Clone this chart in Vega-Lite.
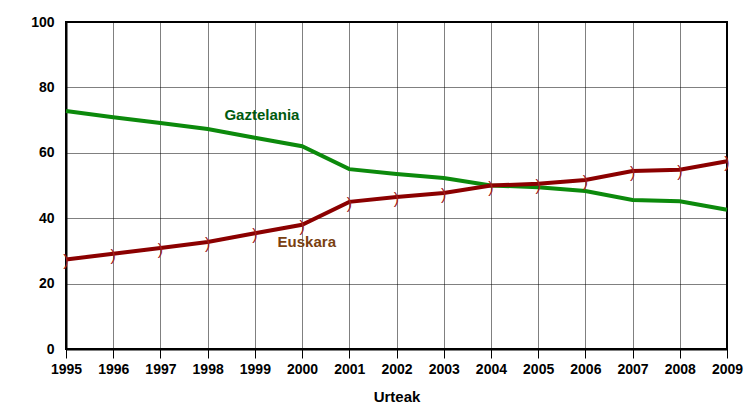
{
  "$schema": "https://vega.github.io/schema/vega-lite/v6.json",
  "autosize": {"type": "none"},
  "width": 661,
  "height": 327,
  "padding": {"left": 66, "top": 22, "right": 26, "bottom": 55},
  "background": "white",
  "config": {
    "view": {"stroke": "black", "strokeWidth": 2},
    "font": "Liberation Sans",
    "axis": {
      "labelFont": "Liberation Sans",
      "labelFontWeight": "bold",
      "labelFontSize": 14,
      "labelColor": "black",
      "grid": true,
      "gridColor": "black",
      "gridDash": [1, 1],
      "gridWidth": 1,
      "gridOpacity": 1,
      "domainColor": "black",
      "domainWidth": 2,
      "tickColor": "black",
      "titleFont": "Liberation Sans",
      "titleFontWeight": "bold",
      "titleFontSize": 15,
      "titleColor": "black"
    }
  },
  "datasets": {
    "series": [
      {"year": 1995, "value": 72.8, "lang": "Gaztelania"},
      {"year": 1996, "value": 70.9, "lang": "Gaztelania"},
      {"year": 1997, "value": 69.1, "lang": "Gaztelania"},
      {"year": 1998, "value": 67.3, "lang": "Gaztelania"},
      {"year": 1999, "value": 64.6, "lang": "Gaztelania"},
      {"year": 2000, "value": 62.0, "lang": "Gaztelania"},
      {"year": 2001, "value": 55.0, "lang": "Gaztelania"},
      {"year": 2002, "value": 53.5, "lang": "Gaztelania"},
      {"year": 2003, "value": 52.3, "lang": "Gaztelania"},
      {"year": 2004, "value": 50.0, "lang": "Gaztelania"},
      {"year": 2005, "value": 49.5, "lang": "Gaztelania"},
      {"year": 2006, "value": 48.3, "lang": "Gaztelania"},
      {"year": 2007, "value": 45.6, "lang": "Gaztelania"},
      {"year": 2008, "value": 45.2, "lang": "Gaztelania"},
      {"year": 2009, "value": 42.6, "lang": "Gaztelania"},
      {"year": 1995, "value": 27.4, "lang": "Euskara"},
      {"year": 1996, "value": 29.1, "lang": "Euskara"},
      {"year": 1997, "value": 30.9, "lang": "Euskara"},
      {"year": 1998, "value": 32.7, "lang": "Euskara"},
      {"year": 1999, "value": 35.4, "lang": "Euskara"},
      {"year": 2000, "value": 38.0, "lang": "Euskara"},
      {"year": 2001, "value": 45.0, "lang": "Euskara"},
      {"year": 2002, "value": 46.5, "lang": "Euskara"},
      {"year": 2003, "value": 47.7, "lang": "Euskara"},
      {"year": 2004, "value": 50.0, "lang": "Euskara"},
      {"year": 2005, "value": 50.5, "lang": "Euskara"},
      {"year": 2006, "value": 51.7, "lang": "Euskara"},
      {"year": 2007, "value": 54.4, "lang": "Euskara"},
      {"year": 2008, "value": 54.8, "lang": "Euskara"},
      {"year": 2009, "value": 57.4, "lang": "Euskara"}
    ],
    "labels": [
      {"year": 1999.15, "value": 71.6, "lang": "Gaztelania"},
      {"year": 2000.1, "value": 32.7, "lang": "Euskara"}
    ]
  },
  "layer": [
    {
      "data": {"name": "series"},
      "mark": {"type": "line", "strokeWidth": 4},
      "encoding": {
        "x": {
          "field": "year", "type": "quantitative",
          "scale": {"domain": [1995, 2009], "nice": false, "zero": false},
          "axis": {
            "values": [1995, 1996, 1997, 1998, 1999, 2000, 2001, 2002, 2003, 2004, 2005, 2006, 2007, 2008, 2009],
            "format": "d",
            "title": "Urteak",
            "tickSize": 9,
            "tickWidth": 1,
            "labelPadding": 4,
            "titlePadding": 13,
            "labelFlush": false
          }
        },
        "y": {
          "field": "value", "type": "quantitative",
          "scale": {"domain": [0, 100], "nice": false},
          "axis": {
            "values": [0, 20, 40, 60, 80, 100],
            "title": null,
            "ticks": false,
            "labelPadding": 12
          }
        },
        "color": {
          "field": "lang", "type": "nominal",
          "scale": {"domain": ["Gaztelania", "Euskara"], "range": ["#0c8a0c", "#8b0000"]},
          "legend": null
        }
      }
    },
    {
      "data": {"name": "series"},
      "transform": [{"filter": "datum.lang === 'Euskara'"}],
      "mark": {"type": "text", "text": ")", "fontSize": 16, "color": "#a02020", "dy": 2},
      "encoding": {
        "x": {"field": "year", "type": "quantitative"},
        "y": {"field": "value", "type": "quantitative"}
      }
    },
    {
      "data": {"name": "labels"},
      "mark": {"type": "text", "fontSize": 15, "fontWeight": "bold", "font": "Liberation Sans"},
      "encoding": {
        "x": {"field": "year", "type": "quantitative"},
        "y": {"field": "value", "type": "quantitative"},
        "text": {"field": "lang"},
        "color": {
          "field": "lang", "type": "nominal",
          "scale": {"domain": ["Gaztelania", "Euskara"], "range": ["#005a10", "#7a4010"]},
          "legend": null
        }
      }
    }
  ],
  "resolve": {"scale": {"color": "independent"}}
}
